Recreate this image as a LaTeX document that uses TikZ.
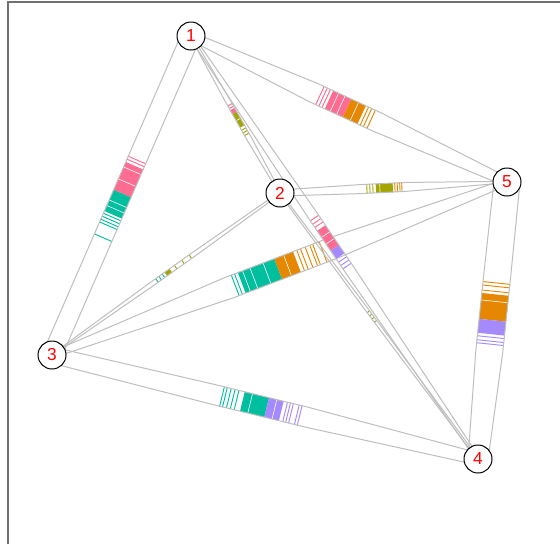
\documentclass[tikz,border=0pt]{standalone}
\usepackage{fontspec}
\setmainfont{Liberation Sans}
\definecolor{cpink}{HTML}{FF6C91}
\definecolor{colive}{HTML}{A3A500}
\definecolor{cteal}{HTML}{00BF9F}
\definecolor{cpurp}{HTML}{A58AFF}
\definecolor{corange}{HTML}{E58700}
\definecolor{bandgray}{HTML}{BEBEBE}
\definecolor{framegray}{HTML}{707070}
\tikzset{
  bandline/.style={draw=bandgray, line width=0.75pt},
  tk/.style={line width=0.7pt},
  nd/.style={circle, draw=black, line width=0.75pt, fill=white, minimum size=21pt, inner sep=0pt, text=red, font=\fontsize{13}{15}\selectfont},
}
% band from (x1,y1) to (x2,y2); #5 = e1/h/e2/a/b ; #6 content in local coords
\newcommand{\band}[6]{%
  \pgfmathsetmacro\bdx{#3-#1}%
  \pgfmathsetmacro\bdy{#4-#2}%
  \pgfmathsetmacro\blen{veclen(\bdx,\bdy)}%
  \pgfmathsetmacro\bang{atan2(-\bdy,\bdx)}%
  \begin{scope}[shift={(#1,#2)}, rotate=\bang]
    \foreach \eA/\hw/\eB/\ua/\ub in {#5}{%
      #6
      \draw[bandline] (0,-\eA) -- (\ua,-\hw) -- (\ub,-\hw) -- (\blen,-\eB)
                      (0,\eA) -- (\ua,\hw) -- (\ub,\hw) -- (\blen,\eB);
    }
  \end{scope}}
\newcommand{\tkl}[2]{\foreach \s in {#2}{\draw[#1,tk] (\s,-\hw) -- (\s,\hw);}}
\newcommand{\blk}[3]{\fill[#1] (#2,-\hw) rectangle (#3,\hw);}
\newcommand{\gapl}[1]{\foreach \s in {#1}{\draw[white,line width=0.45pt] (\s,-\hw) -- (\s,\hw);}}
\def\Ax{191}\def\Ay{36}
\def\Bx{280}\def\By{193}
\def\Cx{52}\def\Cy{355}
\def\Dx{478}\def\Dy{459}
\def\Ex{507}\def\Ey{182}
\begin{document}
\begin{tikzpicture}[x=0.75pt,y=-0.75pt]
\useasboundingbox (0,0) rectangle (560,544);
\draw[framegray, line width=1.5pt] (8,544) -- (8,1.5) -- (560,1.5);
% 1-3
\band{\Ax}{\Ay}{\Cx}{\Cy}{9.5/9.5/9.5/130/225}{%
  \tkl{cpink}{135.3,138.5}
  \blk{cpink}{141.5}{172}
  \gapl{147,160}
  \blk{cteal}{172}{195}
  \gapl{183,189}
  \tkl{cteal}{197.5,200.7,204,207,220}}
% 1-5
\band{\Ax}{\Ay}{\Ex}{\Ey}{4/10/4.5/135/205}{%
  \tkl{cpink}{142,145.5,149}
  \blk{cpink}{152}{172}
  \gapl{158,165}
  \blk{corange}{172}{188}
  \gapl{180}
  \tkl{corange}{191,194.5,198.5}}
% 2-5
\band{\Bx}{\By}{\Ex}{\Ey}{3/4.5/0.7/80/125}{%
  \tkl{colive}{87,90,93}
  \blk{colive}{96}{113}
  \gapl{100}
  \tkl{corange}{115,117.5,120,122}}
% 3-5
\band{\Cx}{\Cy}{\Ex}{\Ey}{3/11/3/190/300}{%
  \tkl{cteal}{196,199.5}
  \blk{cteal}{203}{242}
  \gapl{208,216,230}
  \blk{corange}{242}{262}
  \gapl{252}
  \tkl{corange}{266,270,275,280,283,290}}
% 3-4
\band{\Cx}{\Cy}{\Dx}{\Dy}{8/10/6/170/262}{%
  \tkl{cteal}{175,178,182,186,190}
  \blk{cteal}{196}{221}
  \gapl{204}
  \blk{cpurp}{221}{236}
  \gapl{229}
  \tkl{cpurp}{240,243,246,252,255}}
% 5-4
\band{\Ex}{\Ey}{\Dx}{\Dy}{13/13.5/10/95/170}{%
  \tkl{corange}{101.5,105,110}
  \blk{corange}{113}{139}
  \gapl{120}
  \blk{cpurp}{139}{153}
  \tkl{cpurp}{156,160,163}}
% 1-2
\band{\Ax}{\Ay}{\Bx}{\By}{1/2.5/1/75/118}{%
  \tkl{cpink}{79,82}
  \blk{cpink}{84}{88.5}
  \blk{colive}{88.5}{104}
  \gapl{96}
  \tkl{colive}{107,110,113}}
% 1-4
\band{\Ax}{\Ay}{\Dx}{\Dy}{2/5/2/215/282}{%
  \tkl{cpink}{220,224,228}
  \blk{cpink}{232}{256}
  \gapl{240,248}
  \blk{cpurp}{256}{266}
  \tkl{cpurp}{270,274,278}}
% 2-3
\band{\Bx}{\By}{\Cx}{\Cy}{1/2.2/0.6/105/155}{%
  \tkl{colive}{110,119,128}
  \blk{colive}{134}{140}
  \tkl{cteal}{143,147,151}}
% 2-4
\band{\Bx}{\By}{\Dx}{\Dy}{0.8/1.5/0.8/140/170}{%
  \tkl{colive}{148,152,156,160}}
% nodes
\node[nd] (n1) at (\Ax,\Ay) {1};
\node[nd] (n2) at (\Bx,\By) {2};
\node[nd] (n3) at (\Cx,\Cy) {3};
\node[nd] (n4) at (\Dx,\Dy) {4};
\node[nd] (n5) at (\Ex,\Ey) {5};
\end{tikzpicture}
\end{document}
